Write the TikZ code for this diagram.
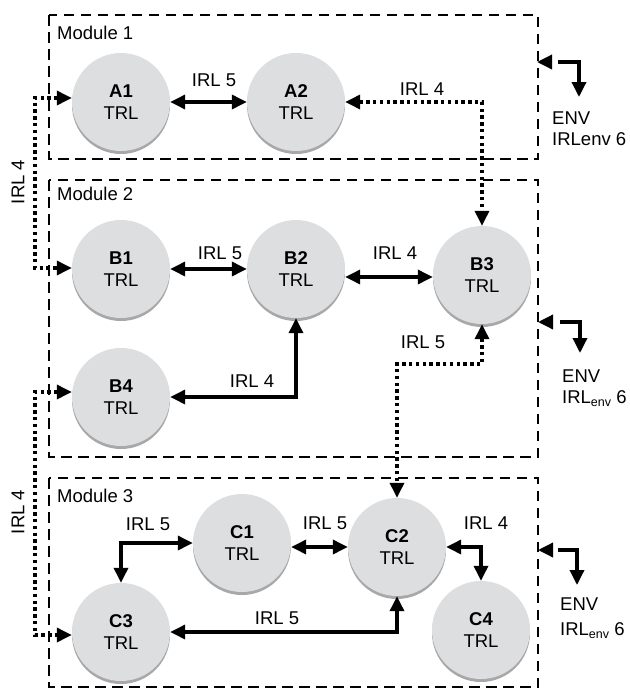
\documentclass[tikz,border=0pt]{standalone}
\usepackage{fontspec}
\setmainfont{Liberation Sans}
\usetikzlibrary{arrows.meta,shadows}

\definecolor{discfill}{RGB}{221,222,224}
\definecolor{discshade}{RGB}{168,168,170}

\tikzset{
  unit/.style={circle, fill=discfill, draw=none, minimum size=98pt, inner sep=0pt,
    align=center, font=\fontsize{18.5}{22.5}\selectfont,
    drop shadow={shadow xshift=0pt, shadow yshift=-3pt, fill=discshade, opacity=1}},
  modbox/.style={draw=black, line width=2.4pt, dash pattern=on 10.5pt off 6.5pt},
  tip/.style={-{Triangle[length=15pt,width=14pt]}},
  bitip/.style={{Triangle[length=15pt,width=14pt]}-{Triangle[length=15pt,width=14pt]}},
  link/.style={line width=3.4pt},
  dotlink/.style={line width=3.4pt, dash pattern=on 3.4pt off 3.4pt},
  lbl/.style={inner sep=0pt, font=\fontsize{18.5}{22.5}\selectfont},
  envlbl/.style={inner sep=0pt, anchor=base west, font=\fontsize{18.5}{22.5}\selectfont},
}
\newcommand{\envsub}{IRL\raisebox{-3pt}{\fontsize{12.5}{12.5}\selectfont env} 6}

\begin{document}
\begin{tikzpicture}[x=1pt, y=-1pt]
\useasboundingbox (0,0) rectangle (630,689);

% module frames
\draw[modbox] (49,15) rectangle (538,159);
\draw[modbox] (49,180) rectangle (538,457);
\draw[modbox] (49,478) rectangle (538,687);

\node[lbl, anchor=base west] (m1) at (57,39) {Module 1};
\node[lbl, anchor=base west] (m2) at (57,200) {Module 2};
\node[lbl, anchor=base west] (m3) at (57,502) {Module 3};

% technology units
\node[unit] (A1) at (121,102) {\textbf{A1}\\TRL};
\node[unit] (A2) at (296,102) {\textbf{A2}\\TRL};
\node[unit] (B1) at (121,269) {\textbf{B1}\\TRL};
\node[unit] (B2) at (296,269) {\textbf{B2}\\TRL};
\node[unit] (B3) at (482,275) {\textbf{B3}\\TRL};
\node[unit] (B4) at (121,397) {\textbf{B4}\\TRL};
\node[unit] (C1) at (242,543) {\textbf{C1}\\TRL};
\node[unit] (C2) at (397,547) {\textbf{C2}\\TRL};
\node[unit] (C3) at (121,632) {\textbf{C3}\\TRL};
\node[unit] (C4) at (481,630) {\textbf{C4}\\TRL};

% routing points
\coordinate (L1) at (35,98);
\coordinate (L2) at (35,268);
\coordinate (L3) at (35,392);
\coordinate (L4) at (35,635);
\coordinate (hb) at (0,277);
\coordinate (k1) at (482,364);

% integration links within modules
\draw[link, bitip] (A1.east) -- (A2.west);
\draw[link, bitip] (B1.east) -- (B2.west);
\draw[link, bitip] (B2.east |- hb) -- (B3.west |- hb);
\draw[link, bitip] (B4.east) -| (B2.south);
\draw[link, bitip] (C1.west) -| (C3.north);
\draw[link, bitip] (C1.east |- C2.west) -- (C2.west);
\draw[link, bitip] (C3.east) -| (C2.south);
\draw[link, bitip] (C2.east) -| (C4.north);

% integration links across modules
\draw[dotlink, bitip] (A2.east) -| (B3.north);
\draw[dotlink, bitip] (A1.west |- L1) -- (L1) -- (L2) -- (B1.west |- L2);
\draw[dotlink, bitip] (B4.west |- L3) -- (L3) -- (L4) -- (C3.west |- L4);
\draw[dotlink, bitip] (B3.south) -- (k1) -| (C2.north);

% link labels
\node[lbl] (t1) at (214,80) {IRL 5};
\node[lbl] (t2) at (422,89) {IRL 4};
\node[lbl, rotate=90] (t3) at (18,182) {IRL 4};
\node[lbl] (t4) at (220,253) {IRL 5};
\node[lbl] (t5) at (395,253) {IRL 4};
\node[lbl] (t6) at (252,381) {IRL 4};
\node[lbl] (t7) at (423,342) {IRL 5};
\node[lbl, rotate=90] (t8) at (18,512) {IRL 4};
\node[lbl] (t9) at (148,524) {IRL 5};
\node[lbl] (t10) at (325,523) {IRL 5};
\node[lbl] (t11) at (277,618) {IRL 5};
\node[lbl] (t12) at (486,523) {IRL 4};

% environment interfaces
\coordinate (e1t) at (537,62);  \coordinate (e1h) at (552,62);
\coordinate (e1a) at (558,62);  \coordinate (e1b) at (579,97);
\coordinate (e2t) at (538,322); \coordinate (e2h) at (553,322);
\coordinate (e2a) at (560,322); \coordinate (e2b) at (580,353);
\coordinate (e3t) at (538,550); \coordinate (e3h) at (553,550);
\coordinate (e3a) at (558,550); \coordinate (e3b) at (577,585);

\draw[link, tip] (e1h) -- (e1t);
\draw[link, tip] (e1a) -| (e1b);
\draw[link, tip] (e2h) -- (e2t);
\draw[link, tip] (e2a) -| (e2b);
\draw[link, tip] (e3h) -- (e3t);
\draw[link, tip] (e3a) -| (e3b);

\node[envlbl] (v1) at (552,124) {ENV};
\node[envlbl] (w1) at (552,145) {IRLenv 6};
\node[envlbl] (v2) at (562,382) {ENV};
\node[envlbl] (w2) at (562,403) {\envsub};
\node[envlbl] (v3) at (560,610) {ENV};
\node[envlbl] (w3) at (560,635) {\envsub};
\end{tikzpicture}
\end{document}
